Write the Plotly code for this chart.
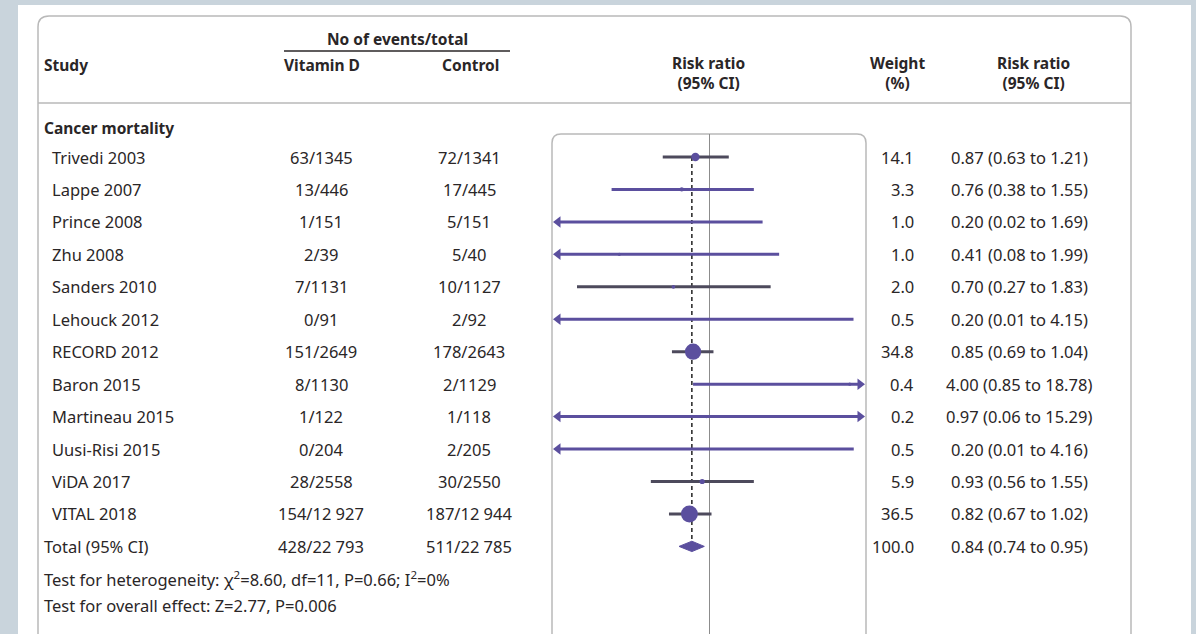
import math
import plotly.graph_objects as go

# ---------------- data ----------------
studies = ["Trivedi 2003", "Lappe 2007", "Prince 2008", "Zhu 2008", "Sanders 2010",
           "Lehouck 2012", "RECORD 2012", "Baron 2015", "Martineau 2015",
           "Uusi-Risi 2015", "ViDA 2017", "VITAL 2018"]
vitd_events = [63, 13, 1, 2, 7, 0, 151, 8, 1, 0, 28, 154]
vitd_total = [1345, 446, 151, 39, 1131, 91, 2649, 1130, 122, 204, 2558, 12927]
ctrl_events = [72, 17, 5, 5, 10, 2, 178, 2, 1, 2, 30, 187]
ctrl_total = [1341, 445, 151, 40, 1127, 92, 2643, 1129, 118, 205, 2550, 12944]
weights = [14.1, 3.3, 1.0, 1.0, 2.0, 0.5, 34.8, 0.4, 0.2, 0.5, 5.9, 36.5]
rr = [0.87, 0.76, 0.20, 0.41, 0.70, 0.20, 0.85, 4.00, 0.97, 0.20, 0.93, 0.82]
rr_lo = [0.63, 0.38, 0.02, 0.08, 0.27, 0.01, 0.69, 0.85, 0.06, 0.01, 0.56, 0.67]
rr_hi = [1.21, 1.55, 1.69, 1.99, 1.83, 4.15, 1.04, 18.78, 15.29, 4.16, 1.55, 1.02]

total_label = "Total (95% CI)"
total_vitd_events, total_vitd = 428, 22793
total_ctrl_events, total_ctrl = 511, 22785
total_weight = 100.0
total_rr, total_lo, total_hi = 0.84, 0.74, 0.95

group_label = "Cancer mortality"
het_text = "Test for heterogeneity: \u03c7<sup>2</sup>=8.60, df=11, P=0.66; I<sup>2</sup>=0%"
overall_text = "Test for overall effect: Z=2.77, P=0.006"

# ---------------- style / layout ----------------
W, H = 1196, 634
ROW0, ROWH = 157, 32.45          # pixel y of first study row, row pitch
FX0, FX1 = 558, 860              # forest axis pixel extent
ONE_X, PX_DEC = 709.5, 233       # pixel of RR=1, pixels per decade
x_log_range = [(FX0 - ONE_X) / PX_DEC, (FX1 - ONE_X) / PX_DEC]
xmin, xmax = 10 ** x_log_range[0], 10 ** x_log_range[1]

PURPLE = "#5b4f9e"
GREY_LINE = "#4d4a5c"
TEXT = "#2a2627"
BORDER = "#b9b9b9"
FONT = "Noto Sans"
FS = 16.5
line_colors = [GREY_LINE, PURPLE, PURPLE, PURPLE, GREY_LINE, PURPLE,
               GREY_LINE, PURPLE, PURPLE, PURPLE, GREY_LINE, GREY_LINE]


def px(x):
    return x / W


def py(y):
    return 1 - y / H


def fmt_n(n):
    return f"{n:,}".replace(",", " ") if n >= 10000 else str(n)


def rounded_open_path(x0, x1, top, r, bottom):
    return (f"M {px(x0)},{py(bottom)} L {px(x0)},{py(top + r)} "
            f"Q {px(x0)},{py(top)} {px(x0 + r)},{py(top)} "
            f"L {px(x1 - r)},{py(top)} Q {px(x1)},{py(top)} {px(x1)},{py(top + r)} "
            f"L {px(x1)},{py(bottom)}")


fig = go.Figure()

n = len(studies)
rows = list(range(n))
total_row = n

# CI lines
for i in rows:
    a = max(rr_lo[i], xmin)
    b = min(rr_hi[i], xmax)
    fig.add_trace(go.Scatter(x=[a, b], y=[i, i], mode="lines", xaxis="x2", yaxis="y",
                             line=dict(color=line_colors[i], width=3),
                             hoverinfo="skip", showlegend=False))

# arrows for clipped intervals
lx, ly, rx, ry = [], [], [], []
for i in rows:
    if rr_lo[i] < xmin:
        lx.append(xmin); ly.append(i)
    if rr_hi[i] > xmax:
        rx.append(xmax); ry.append(i)
fig.add_trace(go.Scatter(x=lx, y=ly, mode="markers", xaxis="x2", yaxis="y",
                         marker=dict(symbol="triangle-left", size=10, color=PURPLE, opacity=1),
                         cliponaxis=False, hoverinfo="skip", showlegend=False))
fig.add_trace(go.Scatter(x=rx, y=ry, mode="markers", xaxis="x2", yaxis="y",
                         marker=dict(symbol="triangle-right", size=10, color=PURPLE, opacity=1),
                         cliponaxis=False, hoverinfo="skip", showlegend=False))

# point estimates (size from weight)
fig.add_trace(go.Scatter(x=rr, y=rows, mode="markers", xaxis="x2", yaxis="y",
                         marker=dict(symbol="circle", color=PURPLE, opacity=1,
                                     size=[3 + 0.38 * w for w in weights],
                                     line=dict(width=0)),
                         hoverinfo="skip", showlegend=False))

# pooled diamond
dh = 0.16
fig.add_trace(go.Scatter(x=[total_lo, total_rr, total_hi, total_rr, total_lo],
                         y=[total_row, total_row - dh, total_row, total_row + dh, total_row],
                         mode="lines", fill="toself", fillcolor=PURPLE,
                         line=dict(color=PURPLE, width=1), xaxis="x2", yaxis="y",
                         hoverinfo="skip", showlegend=False))

# ---------------- shapes ----------------
shapes = []
shapes.append(dict(type="rect", xref="paper", yref="paper", x0=px(18), x1=px(1191),
                   y0=py(H + 5), y1=py(5), fillcolor="white", line=dict(width=0),
                   layer="below"))
shapes.append(dict(type="path", xref="paper", yref="paper",
                   path=rounded_open_path(38, 1131, 16, 11, H + 10),
                   line=dict(color=BORDER, width=1.5), layer="below"))
shapes.append(dict(type="line", xref="paper", yref="paper", x0=px(38), x1=px(1131),
                   y0=py(103), y1=py(103), line=dict(color=BORDER, width=1.5)))
shapes.append(dict(type="line", xref="paper", yref="paper", x0=px(284), x1=px(510),
                   y0=py(51), y1=py(51), line=dict(color=TEXT, width=1.5)))
shapes.append(dict(type="path", xref="paper", yref="paper",
                   path=rounded_open_path(552, 866, 134, 9, H + 10),
                   line=dict(color=BORDER, width=1.5), layer="below"))
shapes.append(dict(type="line", xref="x2", yref="paper", x0=1, x1=1,
                   y0=0, y1=py(134), line=dict(color="#8c8c8c", width=1), layer="below"))
shapes.append(dict(type="line", xref="x2", yref="y", x0=total_rr, x1=total_rr,
                   y0=0, y1=total_row, line=dict(color="#222222", width=1.5, dash="4px,3px"),
                   layer="below"))

# ---------------- annotations ----------------
ann = []


def t(text, x, y, anchor="left", bold=False, xref="x", yref="y", size=FS, yanchor="middle"):
    ann.append(dict(text=f"<b>{text}</b>" if bold else text, x=x, y=y, xref=xref, yref=yref,
                    xanchor=anchor, yanchor=yanchor, showarrow=False,
                    font=dict(family=FONT, size=size, color=TEXT)))


HS = 15.5
t("No of events/total", px(397), py(39), "center", True, "paper", "paper", HS)
t("Study", px(42), py(65), "left", True, "paper", "paper", HS)
t("Vitamin D", px(322), py(65), "center", True, "paper", "paper", HS)
t("Control", px(470), py(65), "center", True, "paper", "paper", HS)
t("Risk ratio<br>(95% CI)", px(708), py(73), "center", True, "paper", "paper", HS)
t("Weight<br>(%)", px(897), py(73), "center", True, "paper", "paper", HS)
t("Risk ratio<br>(95% CI)", px(1033), py(73), "center", True, "paper", "paper", HS)
t(group_label, px(42), py(128), "left", True, "paper", "paper", HS)

for i in rows:
    t(studies[i], 50, i, "left")
    t(f"{vitd_events[i]}/{fmt_n(vitd_total[i])}", 321, i, "center")
    t(f"{ctrl_events[i]}/{fmt_n(ctrl_total[i])}", 469, i, "center")
    t(f"{weights[i]:.1f}", 916, i, "right")
    t(f"{rr[i]:.2f} ({rr_lo[i]:.2f} to {rr_hi[i]:.2f})", 1019, i, "center")

t(total_label, 42, total_row, "left")
t(f"{total_vitd_events}/{fmt_n(total_vitd)}", 321, total_row, "center")
t(f"{total_ctrl_events}/{fmt_n(total_ctrl)}", 469, total_row, "center")
t(f"{total_weight:.1f}", 916, total_row, "right")
t(f"{total_rr:.2f} ({total_lo:.2f} to {total_hi:.2f})", 1019, total_row, "center")

t(het_text, px(42), py(579), "left", False, "paper", "paper")
t(overall_text, px(42), py(605), "left", False, "paper", "paper")

fig.update_layout(
    width=W, height=H, margin=dict(l=0, r=0, t=0, b=0),
    paper_bgcolor="#c9d4dc", plot_bgcolor="rgba(0,0,0,0)",
    xaxis=dict(range=[0, W], domain=[0, 1], visible=False, fixedrange=True),
    xaxis2=dict(type="log", range=x_log_range, domain=[px(FX0), px(FX1)], anchor="y",
                visible=False, fixedrange=True),
    yaxis=dict(range=[(H - ROW0) / ROWH, (0 - ROW0) / ROWH], domain=[0, 1],
               visible=False, fixedrange=True),
    shapes=shapes, annotations=ann, showlegend=False,
)

fig.write_html("out.html", config={"displayModeBar": False},
               post_script="document.body.style.margin='0px';document.body.style.overflow='hidden';")
